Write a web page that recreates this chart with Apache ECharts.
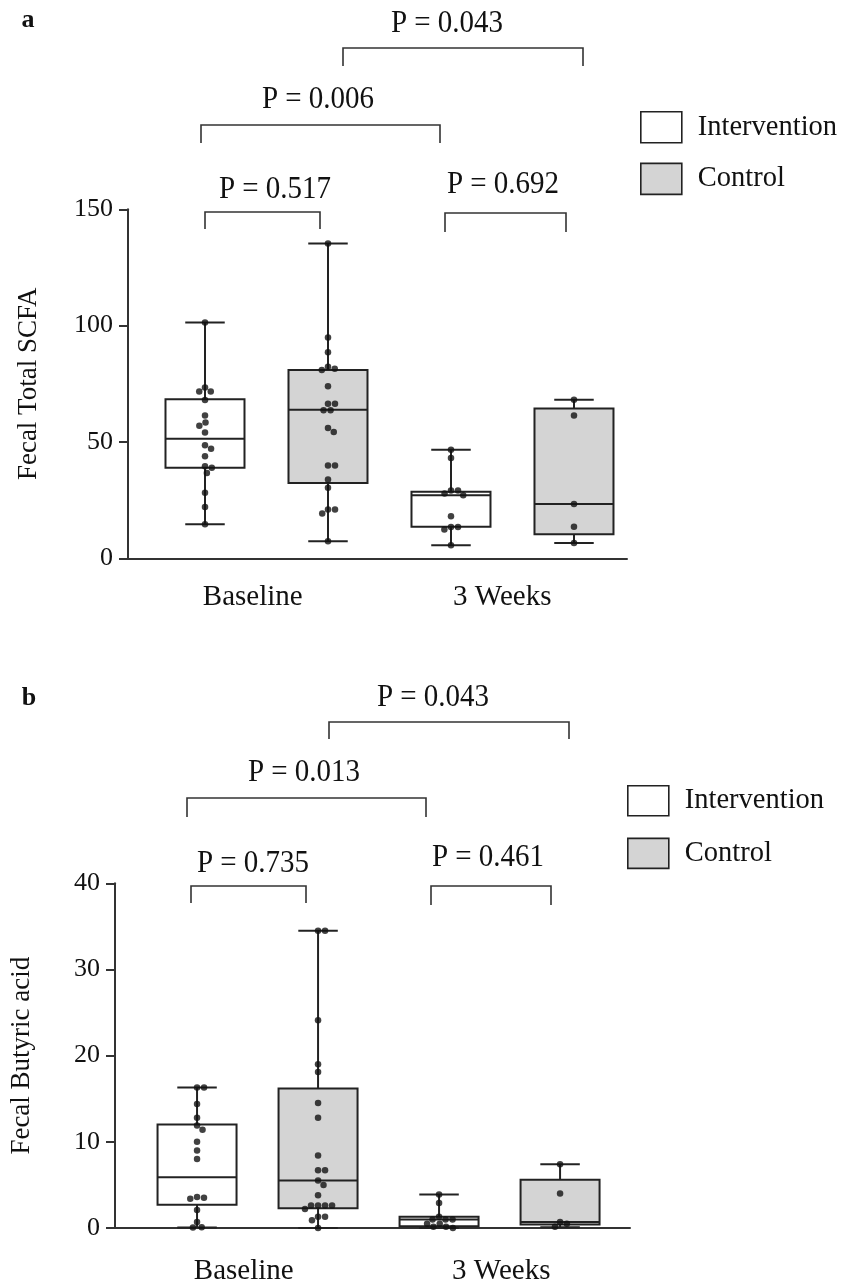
<!DOCTYPE html>
<html>
<head>
<meta charset="utf-8">
<script src="https://cdn.jsdelivr.net/npm/echarts@6/dist/echarts.min.js"></script>
<style>
html, body { margin: 0; padding: 0; background: #fff; }
#chart { width: 843px; height: 1286px; }
</style>
</head>
<body>
<div id="chart"></div>
<script>
const groups = ['Baseline', '3 Weeks'];
const arms = ['Intervention', 'Control'];

// panel a - Fecal Total SCFA, boxes are [min, Q1, median, Q3, max] per group
const scfaBoxIntervention = [[14.6, 38.9, 51.4, 68.4, 101.3], [5.6, 13.6, 27.1, 28.6, 46.7]];
const scfaBoxControl = [[7.3, 32.4, 63.9, 80.9, 135.3], [6.6, 10.3, 23.3, 64.4, 68.1]];
const scfaIntBase = [101.3, 73.4, 71.7, 71.7, 68.0, 61.4, 58.4, 57.0, 54.1, 48.6, 47.1, 43.9, 39.6, 38.9, 36.7, 28.2, 22.0, 14.6];
const scfaCtrlBase = [135.3, 94.9, 88.6, 82.3, 81.5, 80.9, 73.9, 66.4, 66.4, 63.6, 63.6, 56.0, 54.3, 39.9, 39.9, 33.9, 30.3, 21.0, 21.0, 19.3, 7.3];
const scfaInt3w = [46.7, 43.1, 29.1, 29.1, 27.9, 27.1, 18.1, 13.4, 13.4, 12.4, 5.6];
const scfaCtrl3w = [68.1, 61.4, 23.3, 13.6, 6.6];
const scfaP = ['P = 0.043', 'P = 0.006', 'P = 0.517', 'P = 0.692'];

// panel b - Fecal Butyric acid
const butBoxIntervention = [[0.05, 2.7, 5.9, 12.0, 16.3], [0.0, 0.2, 1.0, 1.3, 3.9]];
const butBoxControl = [[0.0, 2.3, 5.5, 16.2, 34.5], [0.1, 0.4, 0.7, 5.6, 7.4]];
const butIntBase = [16.3, 16.3, 14.4, 12.8, 11.9, 11.4, 10.0, 9.0, 8.0, 3.6, 3.5, 3.4, 2.1, 0.7, 0.1, 0.05];
const butCtrlBase = [34.5, 34.5, 24.1, 19.0, 18.1, 14.5, 12.8, 8.4, 6.7, 6.7, 5.5, 5.0, 3.8, 2.6, 2.6, 2.6, 2.6, 2.2, 1.3, 1.3, 0.9, 0.0];
const butInt3w = [3.9, 2.9, 1.3, 1.0, 1.0, 1.0, 0.5, 0.5, 0.15, 0.15, 0.0];
const butCtrl3w = [7.4, 4.0, 0.7, 0.5, 0.15];
const butP = ['P = 0.043', 'P = 0.013', 'P = 0.735', 'P = 0.461'];

const serif = '"Liberation Serif", "Times New Roman", serif';
const ink = '#222';
const grey = '#d4d4d4';
const boxW = 79;
const dotD = 7;

// beeswarm: push a dot sideways until it no longer overlaps the ones already placed
function swarm(values, pxPerUnit) {
	const placed = [];
	return values.map(v => {
		const y = v * pxPerUnit;
		const cands = [0];
		placed.forEach(p => {
			const dy = Math.abs(p.y - y);
			if (dy < dotD) {
				const dx = Math.sqrt(dotD * dotD - dy * dy);
				cands.push(p.x + dx, p.x - dx);
			}
		});
		cands.sort((a, b) => Math.abs(a) - Math.abs(b));
		const x = cands.find(c => placed.every(p => (p.x - c) ** 2 + (p.y - y) ** 2 >= dotD * dotD - 0.01));
		placed.push({ x, y });
		return x;
	});
}

function dots(lists, pxPerUnit) {
	const out = [];
	lists.forEach((vals, idx) => {
		const offs = swarm(vals, pxPerUnit);
		vals.forEach((v, i) => out.push({ value: [idx, v], symbolOffset: [offs[i], 0] }));
	});
	return out;
}

function boxData(boxes, arm) {
	// x position: group * 2 + arm  (Int baseline, Ctrl baseline, Int 3w, Ctrl 3w)
	return boxes.map((b, g) => [g * 2 + arm].concat(b));
}

function renderBox(params, api) {
	const x = api.value(0);
	const p = [1, 2, 3, 4, 5].map(i => api.coord([x, api.value(i)]));
	const cx = p[0][0];
	const hw = boxW / 2, cw = boxW / 4;
	const line = { stroke: ink, lineWidth: 2 };
	return {
		type: 'group',
		children: [
			{ type: 'line', shape: { x1: cx, y1: p[0][1], x2: cx, y2: p[1][1] }, style: line },
			{ type: 'line', shape: { x1: cx, y1: p[3][1], x2: cx, y2: p[4][1] }, style: line },
			{ type: 'line', shape: { x1: cx - cw, y1: p[0][1], x2: cx + cw, y2: p[0][1] }, style: line },
			{ type: 'line', shape: { x1: cx - cw, y1: p[4][1], x2: cx + cw, y2: p[4][1] }, style: line },
			{ type: 'rect', shape: { x: cx - hw, y: p[3][1], width: boxW, height: p[1][1] - p[3][1] },
				style: { fill: api.visual('color'), stroke: ink, lineWidth: 2 } },
			{ type: 'line', shape: { x1: cx - hw, y1: p[2][1], x2: cx + hw, y2: p[2][1] }, style: line }
		]
	};
}

function bracket(x1, x2, y, y2) {
	return { type: 'polyline', shape: { points: [[x1, y2], [x1, y], [x2, y], [x2, y2]] },
		style: { stroke: '#333', lineWidth: 1.6, fill: null } };
}
function ptext(str, x, y) {
	return { type: 'text', x: x, y: y, scaleY: 1.12,
		style: { text: str, font: '29px ' + serif, fill: '#111', textAlign: 'center', textVerticalAlign: 'middle' } };
}
function letter(str, x, y) {
	return { type: 'text', x: x, y: y,
		style: { text: str, font: 'bold 26px ' + serif, fill: '#111', textAlign: 'center', textVerticalAlign: 'middle' } };
}

const panels = [
	{ grid: { left: 128, top: 209.3, width: 499, height: 349 }, xMin: -0.626, xMax: 3.431, yMax: 150, step: 50,
		name: 'Fecal Total SCFA', nameGap: 86, labelMargin: 25 },
	{ grid: { left: 115, top: 883.3, width: 515, height: 348.4 }, xMin: -0.678, xMax: 3.578, yMax: 40, step: 10,
		name: 'Fecal Butyric acid', nameGap: 80, labelMargin: 29 }
];

const xAxes = [], yAxes = [];
panels.forEach((pn, i) => {
	xAxes.push({
		type: 'value', gridIndex: i, min: pn.xMin, max: pn.xMax,
		axisLine: { show: true, onZero: false, lineStyle: { color: '#333', width: 2 } },
		axisTick: { show: false }, axisLabel: { show: false }, splitLine: { show: false }
	});
	xAxes.push({
		type: 'category', gridIndex: i, data: groups, position: 'bottom',
		axisLine: { show: false }, axisTick: { show: false }, splitLine: { show: false },
		axisLabel: { fontFamily: serif, fontSize: 29, color: '#111', margin: pn.labelMargin }
	});
	yAxes.push({
		type: 'value', gridIndex: i, min: 0, max: pn.yMax, interval: pn.step,
		name: pn.name, nameLocation: 'middle', nameGap: pn.nameGap, nameRotate: 90,
		nameTextStyle: { fontFamily: serif, fontSize: 27, color: '#111' },
		axisLine: { show: true, onZero: false, lineStyle: { color: '#333', width: 2 } },
		axisTick: { show: true, length: 9, lineStyle: { color: '#333', width: 2 } },
		axisLabel: { fontFamily: serif, fontSize: 26, color: '#111', margin: 15 },
		splitLine: { show: false }
	});
});

function boxSeries(name, data, xi, yi, color) {
	return {
		type: 'custom', name: name, xAxisIndex: xi, yAxisIndex: yi, z: 2,
		itemStyle: { color: color, borderColor: ink, borderWidth: 2 },
		encode: { x: 0, y: [1, 2, 3, 4, 5] },
		renderItem: renderBox, data: data
	};
}
function dotSeries(data, xi, yi) {
	return {
		type: 'scatter', xAxisIndex: xi, yAxisIndex: yi, z: 3, symbol: 'circle', symbolSize: 6.5,
		itemStyle: { color: '#111' }, silent: true, data: data
	};
}

const pxA = panels[0].grid.height / panels[0].yMax;
const pxB = panels[1].grid.height / panels[1].yMax;

const series = [
	boxSeries(arms[0], boxData(scfaBoxIntervention, 0), 0, 0, '#fff'),
	boxSeries(arms[1], boxData(scfaBoxControl, 1), 0, 0, grey),
	dotSeries(dots([scfaIntBase, scfaCtrlBase, scfaInt3w, scfaCtrl3w], pxA), 0, 0),
	boxSeries(arms[0], boxData(butBoxIntervention, 0), 2, 1, '#fff'),
	boxSeries(arms[1], boxData(butBoxControl, 1), 2, 1, grey),
	dotSeries(dots([butIntBase, butCtrlBase, butInt3w, butCtrl3w], pxB), 2, 1)
];

function legendAt(left, top, h, gap) {
	return {
		left: left, top: top, orient: 'vertical', icon: 'rect', itemWidth: 41, itemHeight: h, itemGap: gap,
		padding: 0, selectedMode: false,
		itemStyle: { borderColor: ink, borderWidth: 1.6 },
		textStyle: { fontFamily: serif, fontSize: 28.5, color: '#111', padding: [0, 0, 0, 11] },
		data: [{ name: arms[0], itemStyle: { color: '#fff' } }, { name: arms[1], itemStyle: { color: grey } }]
	};
}

const graphics = [
	letter('a', 28, 20),
	ptext(scfaP[0], 447, 23), bracket(343, 583, 48, 66),
	ptext(scfaP[1], 318, 99), bracket(201, 440, 125, 143),
	ptext(scfaP[2], 275, 189), bracket(205, 320, 212, 229),
	ptext(scfaP[3], 503, 184), bracket(445, 566, 213, 232),
	letter('b', 29, 698),
	ptext(butP[0], 433, 697), bracket(329, 569, 722, 739),
	ptext(butP[1], 304, 772), bracket(187, 426, 798, 817),
	ptext(butP[2], 253, 863), bracket(191, 306, 886, 903),
	ptext(butP[3], 488, 857), bracket(431, 551, 886, 905)
];

const chart = echarts.init(document.getElementById('chart'), null, { renderer: 'canvas' });
chart.setOption({
	backgroundColor: '#fff',
	animation: false,
	grid: panels.map(p => Object.assign({ containLabel: false }, p.grid)),
	xAxis: xAxes,
	yAxis: yAxes,
	legend: [legendAt(640, 111, 31, 19), legendAt(627, 785, 30, 21)],
	graphic: graphics,
	series: series
});
</script>
</body>
</html>
